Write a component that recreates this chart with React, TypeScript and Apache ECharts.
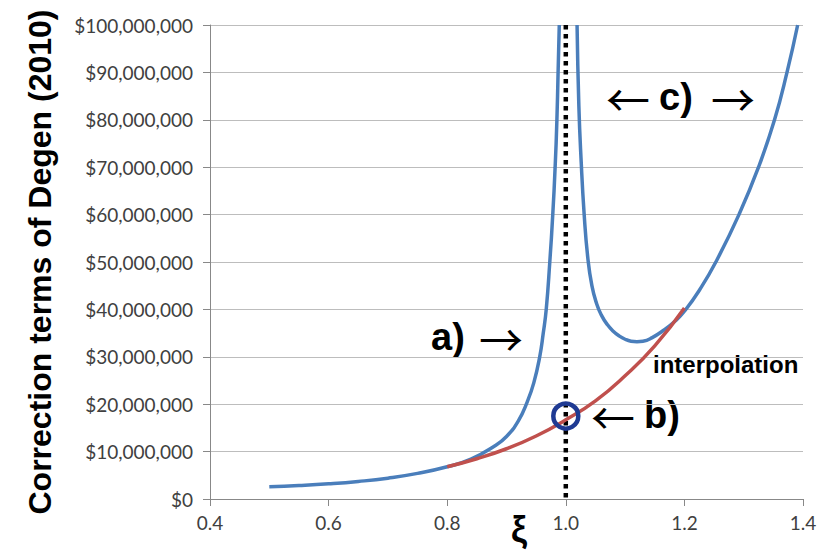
import React, { useEffect, useRef } from "react";
import * as echarts from "echarts";

// ξ values and correction terms (in millions of dollars)
const blueLeftX = [0.5, 0.55, 0.6, 0.65, 0.7, 0.75, 0.8, 0.84, 0.88, 0.9, 0.92, 0.935, 0.946, 0.956, 0.962, 0.967, 0.973, 0.978, 0.982, 0.985, 0.987, 0.989];
const blueLeftY = [2.6, 2.85, 3.2, 3.7, 4.4, 5.4, 6.8, 8.4, 11.2, 13.2, 16.5, 20.5, 24.5, 30, 35, 40, 50, 60, 70, 80, 90, 100];

const blueRightX = [1.019, 1.022, 1.026, 1.031, 1.037, 1.044, 1.052, 1.06, 1.07, 1.08, 1.09, 1.1, 1.11, 1.12, 1.13, 1.145, 1.165, 1.185, 1.2, 1.225, 1.253, 1.292, 1.325, 1.352, 1.373, 1.391];
const blueRightY = [100, 83, 71, 60, 51, 45, 41.2, 38.8, 36.8, 35.4, 34.4, 33.7, 33.3, 33.2, 33.3, 34, 35.6, 37.6, 39.6, 44, 50, 60, 70, 80, 90, 100];

const interpX = [0.8, 0.85, 0.9, 0.95, 1.0, 1.05, 1.1, 1.15, 1.2];
const interpY = [6.8, 8.5, 10.6, 13.3, 16.7, 20.7, 26, 32.3, 40.3];

const dottedX = [1.0, 1.0];
const dottedY = [100, 0];

const pointBX = [1.0];
const pointBY = [17.5];

const xMin = 0.4, xMax = 1.4, xStep = 0.2;
const yMin = 0, yMax = 100, yStep = 10;

const yAxisTitle = "Correction terms of Degen (2010)";
const xAxisTitle = "ξ";

const zip = (xs: number[], ys: number[]) => xs.map((x, i) => [x, ys[i]]);

export default function App() {
  const ref = useRef<HTMLDivElement>(null);
  useEffect(() => {
    if (!ref.current) return;
    const chart = echarts.init(ref.current, null, { renderer: "svg" });
    const labelFont = "Lato, 'Open Sans', sans-serif";
    const boldFont = "'Liberation Sans', Arial, sans-serif";
    const arrowFont = "'Noto Sans CJK JP', 'DejaVu Sans', sans-serif";
    const bigLetter = { fontSize: 38, fontWeight: "bold", fontFamily: boldFont, fill: "#000" };
    const arrowStyle = { fontSize: 44, fontFamily: arrowFont, fill: "#000" };
    chart.setOption({
      animation: false,
      backgroundColor: "#fff",
      grid: { left: 210, right: 16, top: 25, bottom: 54, containLabel: false, outerBoundsMode: "none" },
      xAxis: {
        type: "value",
        min: xMin,
        max: xMax,
        interval: xStep,
        axisLine: { show: true, lineStyle: { color: "#888", width: 1 } },
        axisTick: { show: true, inside: false, length: 7, lineStyle: { color: "#888" } },
        axisLabel: {
          formatter: (v: number) => v.toFixed(1),
          fontSize: 19,
          fontFamily: labelFont,
          color: "#404040",
          margin: 14,
        },
        splitLine: { show: false },
      },
      yAxis: {
        type: "value",
        min: yMin,
        max: yMax,
        interval: yStep,
        name: yAxisTitle,
        nameLocation: "middle",
        nameRotate: 90,
        nameGap: 154,
        nameTextStyle: {
          fontSize: 32,
          fontWeight: "bold",
          fontFamily: boldFont,
          color: "#000",
        },
        axisLine: { show: true, lineStyle: { color: "#888", width: 1 } },
        axisTick: { show: true, inside: false, length: 7, lineStyle: { color: "#888" } },
        axisLabel: {
          formatter: (v: number) => "$" + Math.round(v * 1000000).toLocaleString("en-US"),
          fontSize: 19,
          fontFamily: labelFont,
          color: "#404040",
          margin: 17,
        },
        splitLine: { show: true, lineStyle: { color: "#bdbdbd", width: 1 } },
      },
      series: [
        {
          type: "line",
          name: "dotted",
          data: zip(dottedX, dottedY),
          symbol: "none",
          lineStyle: { color: "#000", width: 4.5, type: [4.5, 4.5], cap: "butt" },
          z: 1,
        },
        {
          type: "line",
          name: "left",
          data: zip(blueLeftX, blueLeftY),
          symbol: "none",
          smooth: true,
          lineStyle: { color: "#4a7ebb", width: 3.5 },
          z: 2,
        },
        {
          type: "line",
          name: "right",
          data: zip(blueRightX, blueRightY),
          symbol: "none",
          smooth: true,
          lineStyle: { color: "#4a7ebb", width: 3.5 },
          z: 2,
        },
        {
          type: "line",
          name: "interpolation",
          data: zip(interpX, interpY),
          symbol: "none",
          smooth: true,
          lineStyle: { color: "#c0504d", width: 3.5 },
          z: 3,
        },
        {
          type: "scatter",
          name: "b",
          data: zip(pointBX, pointBY),
          symbol: "circle",
          symbolSize: 25,
          itemStyle: { color: "rgba(0,0,0,0)", borderColor: "#1f3a93", borderWidth: 4.5, opacity: 1 },
          z: 4,
        },
      ],
      graphic: [
        { type: "text", left: 511, top: 511, style: { text: xAxisTitle, fontSize: 36, fontWeight: "bold", fontFamily: boldFont, fill: "#000" } },
        { type: "text", left: 431, top: 318, style: { text: "a)", ...bigLetter } },
        { type: "text", left: 479, top: 316, style: { text: "→", ...arrowStyle } },
        { type: "text", left: 591, top: 394, style: { text: "←", ...arrowStyle } },
        { type: "text", left: 644, top: 396, style: { text: "b)", ...bigLetter } },
        { type: "text", left: 606, top: 76, style: { text: "←", ...arrowStyle } },
        { type: "text", left: 659, top: 78, style: { text: "c)", ...bigLetter } },
        { type: "text", left: 711, top: 76, style: { text: "→", ...arrowStyle } },
        {
          type: "text",
          left: 653,
          top: 352,
          style: { text: "interpolation", fontSize: 24, fontWeight: "bold", fontFamily: boldFont, fill: "#000" },
        },
      ],
    });
    return () => chart.dispose();
  }, []);
  return <div ref={ref} style={{ width: 819, height: 553, position: "absolute", left: 0, top: 0 }} />;
}
